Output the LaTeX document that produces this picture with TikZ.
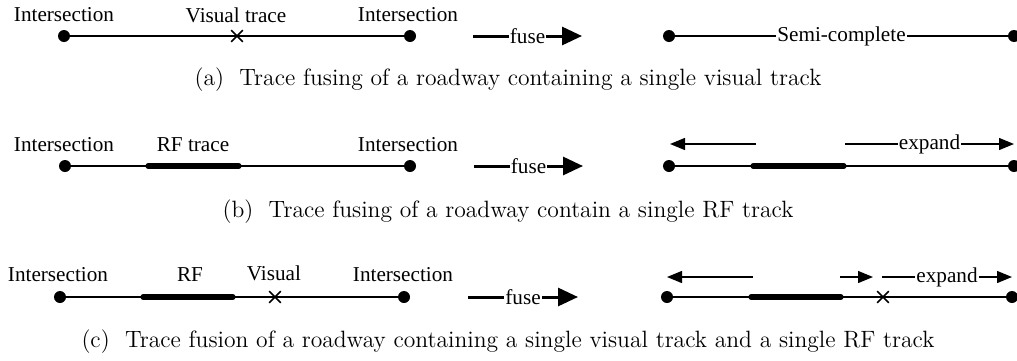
\documentclass[tikz,border=0pt]{standalone}
\usepackage{fontspec}
\newfontfamily\timesfont{Liberation Serif}
\usetikzlibrary{arrows.meta,shapes.misc}

\tikzset{
  dot/.style={circle,fill,inner sep=0pt,minimum size=6pt},
  lbl/.style={font=\timesfont\fontsize{10.6}{12}\selectfont,inner sep=1pt},
  road/.style={line width=0.65pt},
  rf/.style={line width=2.6pt,line cap=round},
  visual/.style={cross out,draw,minimum size=5pt,inner sep=0pt,line width=0.85pt},
  fusearrow/.style={line width=1.5pt,-{Triangle[length=10pt,width=9pt]}},
  exparrow/.style={line width=0.65pt,-{Triangle[length=7.5pt,width=6pt]}},
  capt/.style={font=\fontsize{11.8}{13}\selectfont}
}

\begin{document}
\begin{tikzpicture}[x=0.5pt,y=-0.5pt]
   \useasboundingbox (0,0) rectangle (1017,360);
   % (a) single visual track
   \node[dot] (a1) at (64,36) {};
   \node[dot] (a2) at (410,36) {};
   \draw[road] (a1.center) -- (a2.center);
   \node[visual] (av) at (237,36) {};
   \node[lbl] (ai1) at (64,15) {Intersection};
   \node[lbl] (avl) at (236,15) {Visual trace};
   \node[lbl] (ai2) at (408,15) {Intersection};
   \coordinate (af0) at (473,36);
   \coordinate (af1) at (582,36);
   \draw[fusearrow] (af0) -- node[lbl,fill=white,inner sep=0.5pt] (afuse) {fuse} (af1);
   \node[dot] (as1) at (669,36) {};
   \node[dot] (as2) at (1014,36) {};
   \draw[road] (as1) -- node[lbl,fill=white,inner sep=0.5pt] (asemi) {Semi-complete} (as2);
   \node[capt] (acap) at (508,80) {(a)\ \ Trace fusing of a roadway containing a single visual track};

   % (b) single RF track
   \node[dot] (b1) at (65,166) {};
   \node[dot] (b2) at (410,166) {};
   \draw[road] (b1.center) -- (b2.center);
   \coordinate (brf0) at (148,166);
   \coordinate (brf1) at (239,166);
   \draw[rf] (brf0) -- (brf1);
   \node[lbl] (bi1) at (64,145) {Intersection};
   \node[lbl] (brfl) at (193,145) {RF trace};
   \node[lbl] (bi2) at (408,145) {Intersection};
   \coordinate (bf0) at (474,166);
   \coordinate (bf1) at (583,166);
   \draw[fusearrow] (bf0) -- node[lbl,fill=white,inner sep=0.5pt] (bfuse) {fuse} (bf1);
   \node[dot] (bs1) at (669,166) {};
   \node[dot] (bs2) at (1014,166) {};
   \draw[road] (bs1.center) -- (bs2.center);
   \coordinate (bsrf0) at (753,166);
   \coordinate (bsrf1) at (844,166);
   \draw[rf] (bsrf0) -- (bsrf1);
   \coordinate (bl0) at (756,144);
   \coordinate (bl1) at (670,144);
   \draw[exparrow] (bl0) -- (bl1);
   \coordinate (br0) at (845,144);
   \coordinate (br1) at (1014,144);
   \draw[exparrow] (br0) -- node[lbl,fill=white,inner sep=0.5pt] (bexp) {expand} (br1);
   \node[capt] (bcap) at (508,212) {(b)\ \ Trace fusing of a roadway contain a single RF track};

   % (c) visual and RF track
   \node[dot] (c1) at (60,297) {};
   \node[dot] (c2) at (404,297) {};
   \draw[road] (c1.center) -- (c2.center);
   \coordinate (crf0) at (143,297);
   \coordinate (crf1) at (233,297);
   \draw[rf] (crf0) -- (crf1);
   \node[visual] (cv) at (275,297) {};
   \node[lbl] (ci1) at (58,275) {Intersection};
   \node[lbl] (crfl) at (190,275) {RF};
   \node[lbl] (cvl) at (274,273) {Visual};
   \node[lbl] (ci2) at (403,275) {Intersection};
   \coordinate (cf0) at (468,297);
   \coordinate (cf1) at (578,297);
   \draw[fusearrow] (cf0) -- node[lbl,fill=white,inner sep=0.5pt] (cfuse) {fuse} (cf1);
   \node[dot] (cs1) at (667,297) {};
   \node[dot] (cs2) at (1012,297) {};
   \draw[road] (cs1.center) -- (cs2.center);
   \coordinate (csrf0) at (751,297);
   \coordinate (csrf1) at (841,297);
   \draw[rf] (csrf0) -- (csrf1);
   \node[visual] (csv) at (883,297) {};
   \coordinate (cl0) at (753,277);
   \coordinate (cl1) at (667,277);
   \draw[exparrow] (cl0) -- (cl1);
   \coordinate (cm0) at (840,277);
   \coordinate (cm1) at (873,277);
   \draw[exparrow] (cm0) -- (cm1);
   \coordinate (cr0) at (882,277);
   \coordinate (cr1) at (1012,277);
   \draw[exparrow] (cr0) -- node[lbl,fill=white,inner sep=0.5pt] (cexp) {expand} (cr1);
   \node[capt] (ccap) at (508,342) {(c)\ \ Trace fusion of a roadway containing a single visual track and a single RF track};
\end{tikzpicture}
\end{document}
